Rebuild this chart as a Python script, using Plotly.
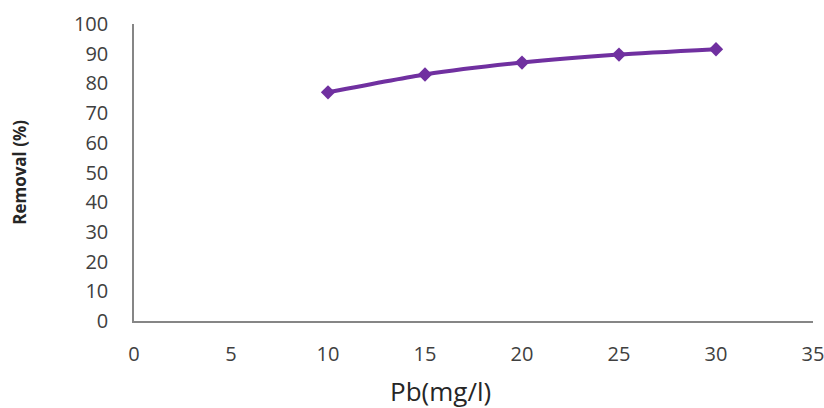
import plotly.graph_objects as go

pb_conc = [10, 15, 20, 25, 30]
removal = [77, 83, 87, 89.7, 91.5]
x_ticks = [0, 5, 10, 15, 20, 25, 30, 35]
y_ticks = [0, 10, 20, 30, 40, 50, 60, 70, 80, 90, 100]

fig = go.Figure()
fig.add_trace(go.Scatter(
    x=pb_conc, y=removal, mode="lines+markers",
    line=dict(color="#7030A0", width=4, shape="spline", smoothing=0.6),
    marker=dict(symbol="diamond", size=11, color="#7030A0"),
    showlegend=False,
))

font_fam = "Open Sans, Noto Sans, sans-serif"
fig.update_layout(
    width=824, height=408,
    margin=dict(l=134, r=11, t=24, b=87, autoexpand=False),
    plot_bgcolor="white", paper_bgcolor="white",
    font=dict(family=font_fam, color="#404040"),
    xaxis=dict(range=[0, 35], tickvals=x_ticks, showgrid=False, zeroline=False,
               showline=True, linecolor="#868686", linewidth=1.5, automargin=False,
               ticks="", tickfont=dict(size=20, color="#404040"),
               ticklabelstandoff=14, ticklabeloverflow="allow"),
    yaxis=dict(range=[0, 100], tickvals=y_ticks, showgrid=False, zeroline=False,
               showline=True, linecolor="#868686", linewidth=1.5, automargin=False,
               ticks="", tickfont=dict(size=20, color="#404040"),
               ticklabelstandoff=20, ticklabeloverflow="allow"),
    annotations=[
        dict(text="Pb(mg/l)", xref="paper", yref="paper", x=0.452, y=-0.236,
             showarrow=False, font=dict(size=26, color="#262626", family=font_fam),
             xanchor="center", yanchor="middle"),
        dict(text="<b>Removal (%)</b>", xref="paper", yref="paper", x=-0.168, y=0.502,
             showarrow=False, textangle=-90, font=dict(size=17, color="#262626", family=font_fam),
             xanchor="center", yanchor="middle"),
    ],
)
fig.write_html("out.html", config={"displayModeBar": False},
               post_script="document.body.style.margin='0';document.body.style.overflow='hidden';")
